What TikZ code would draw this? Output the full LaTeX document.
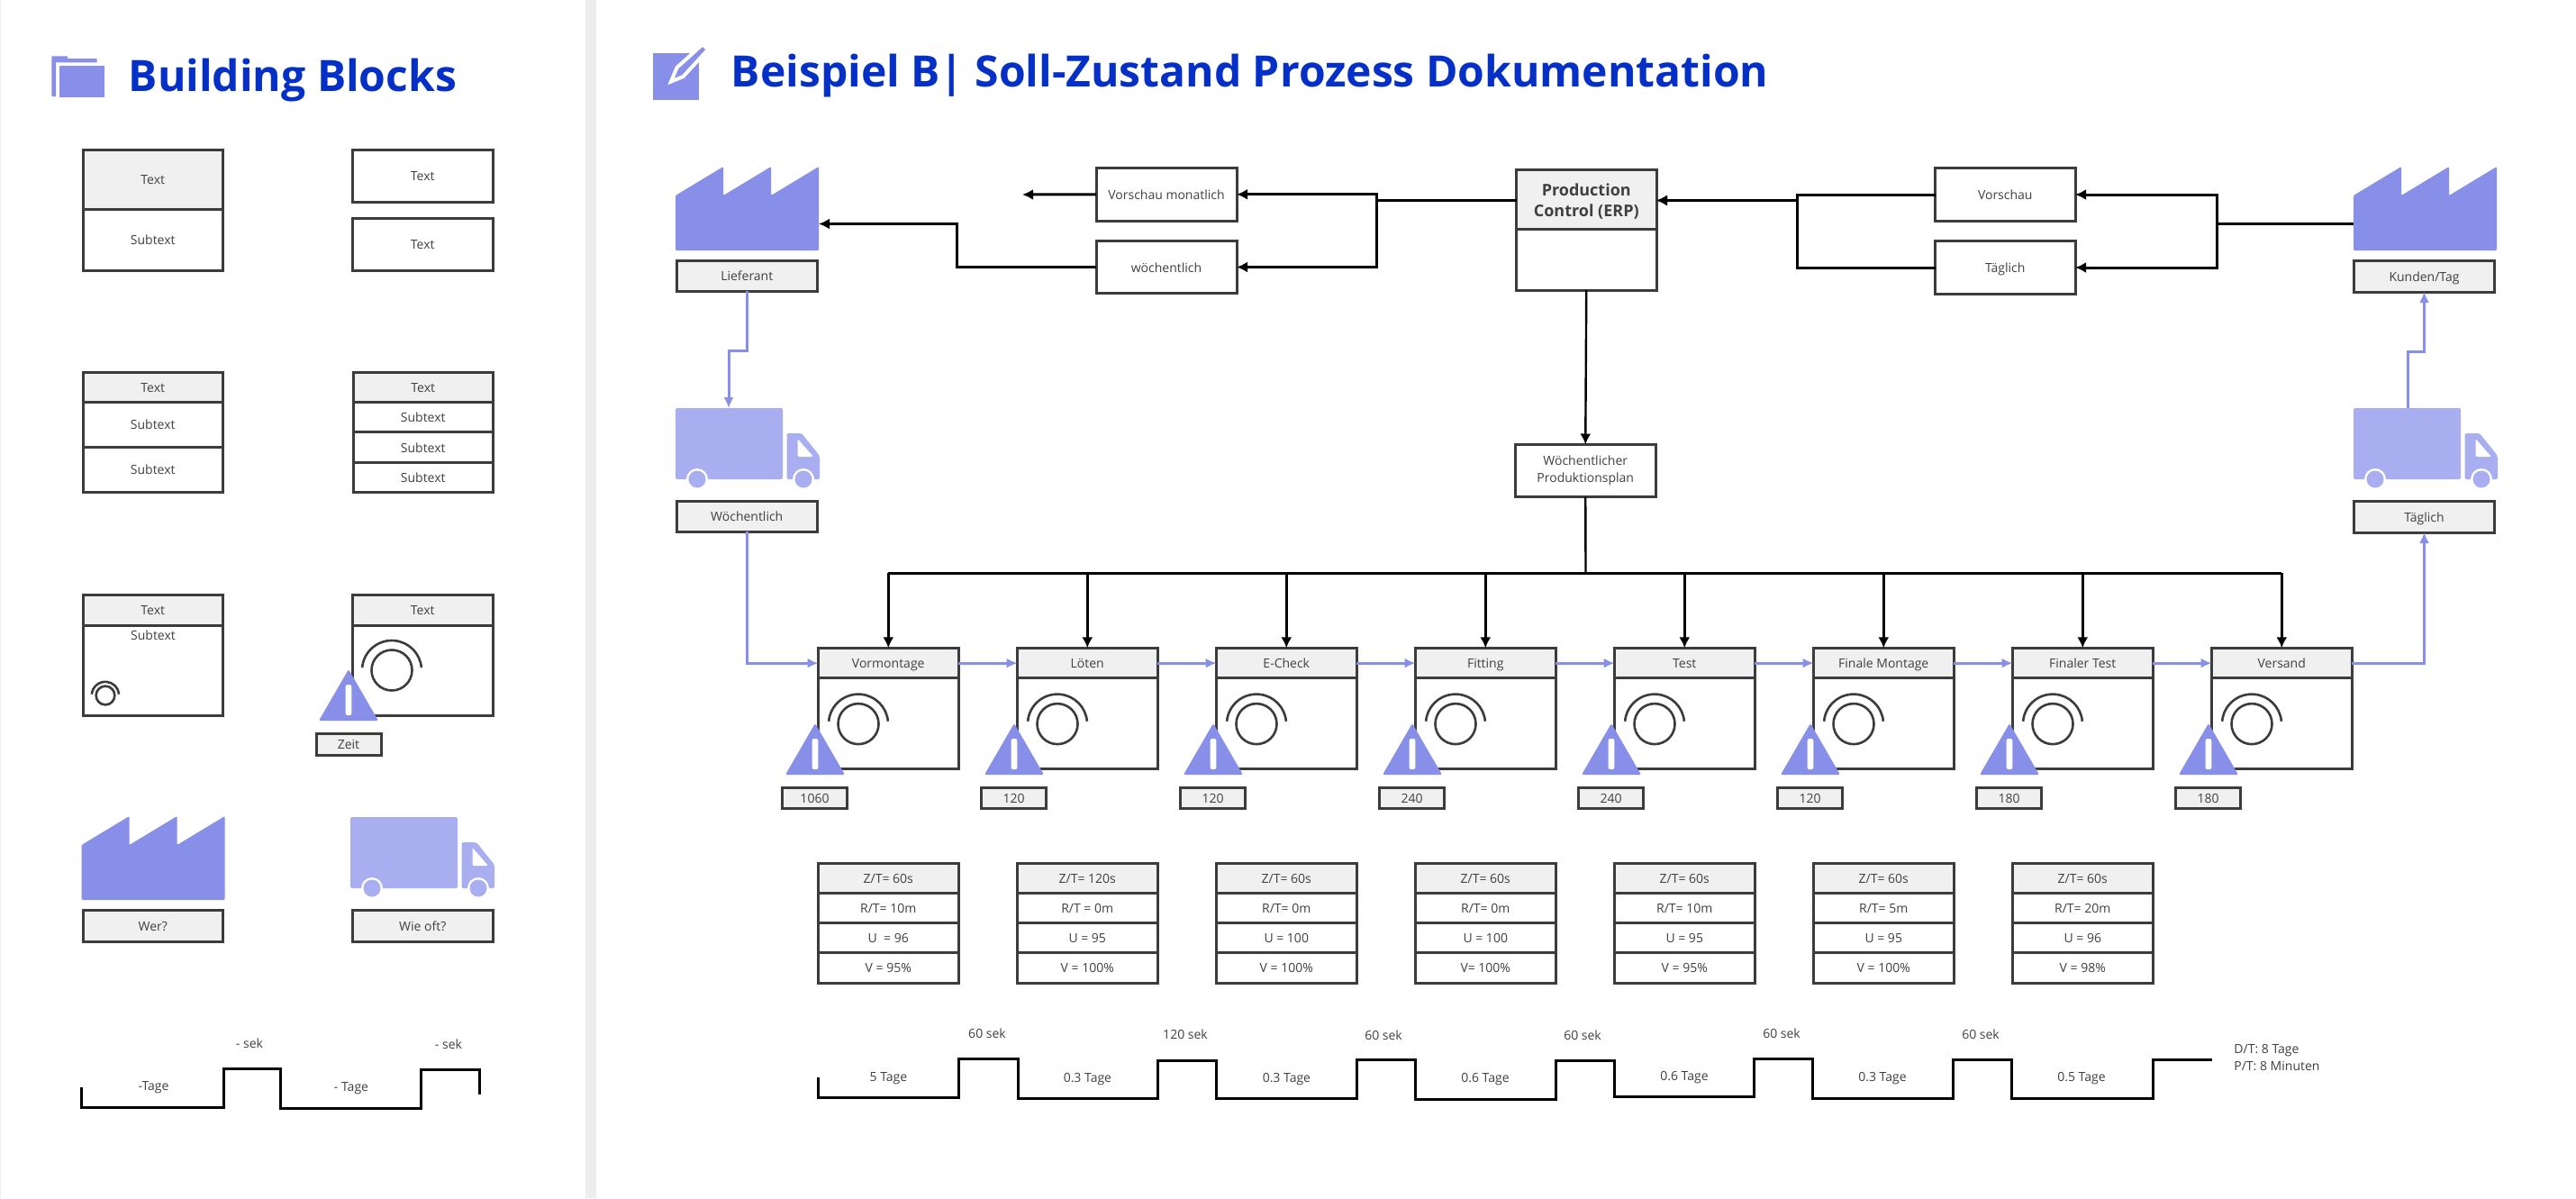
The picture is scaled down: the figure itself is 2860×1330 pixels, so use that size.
\documentclass[tikz,border=0pt]{standalone}
\usepackage{fontspec}
\usetikzlibrary{arrows.meta}
\setmainfont{Open Sans}
\definecolor{titleblue}{HTML}{0530C8}
\definecolor{iconblue}{HTML}{888FE8}
\definecolor{truckblue}{HTML}{A9AEF0}
\definecolor{linedark}{HTML}{3C3C3C}
\definecolor{textdark}{HTML}{404040}
\definecolor{headgray}{HTML}{F0F0F0}
\definecolor{stripegray}{HTML}{EEEEEE}
\tikzset{
  span/.style args={#1 by #2}{minimum width=#1*0.5pt, minimum height=#2*0.5pt},
  cellbase/.style={draw=linedark, line width=1.5pt, fill=white, text=textdark, inner sep=0pt, outer sep=0pt,
    anchor=north west, align=center, font=\fontsize{7}{9.2}\selectfont},
  cell/.style={cellbase, text height=.75em, text depth=.2em},
  headcell/.style={cell, fill=headgray},
  hidden/.style={inner sep=0pt, outer sep=0pt, anchor=north west},
  txt/.style={text=textdark, inner sep=0pt, font=\fontsize{7}{9.2}\selectfont},
  maintitle/.style={text=titleblue, inner sep=0pt, anchor=base west, font=\fontsize{24}{28}\selectfont\bfseries},
  flow/.style={-{Latex[length=6pt,width=6pt]}, black, line width=1.5pt},
  supply/.style={-{Latex[length=6pt,width=5.5pt]}, iconblue, line width=1.5pt},
  stepline/.style={black, line width=1.5pt, line join=miter},
  factory/.pic={
    \fill[iconblue, rounded corners=0.6pt] (0,32) -- (53,0) -- (53,32) -- (106,0) -- (106,32) -- (159,0) -- (159,93) -- (0,93) -- cycle;
  },
  truck/.pic={
    \fill[truckblue, rounded corners=1pt] (0,0) -- (119,0) -- (119,79) -- (0,79) -- cycle;
    \fill[truckblue, rounded corners=1pt] (123.5,28) -- (140,28) -- (160,53) -- (160,79) -- (123.5,79) -- cycle;
    \fill[white, rounded corners=1pt] (135.5,34) -- (153,54) -- (135.5,54) -- cycle;
    \fill[white] (24,79) circle (12) (142,79) circle (12);
    \fill[truckblue] (24,79) circle (9.5) (142,79) circle (9.5);
  },
  warnsign/.pic={
    \fill[iconblue, rounded corners=1pt] (0,0) -- (33,57) -- (-33,57) -- cycle;
    \fill[white, rounded corners=1pt] (-3.3,17) rectangle (3.3,51);
  },
  dial/.pic={
    \draw[linedark, line width=1.3pt] (0,0) circle (22.5);
    \draw[linedark, line width=1.3pt] (185:33) arc (185:355:33);
  },
}
\begin{document}
\begin{tikzpicture}[x=0.5pt,y=-0.5pt]
\useasboundingbox (0,0) rectangle (2860,1330);
\fill[white] (0,0) rectangle (2860,1330);
\fill[stripegray] (650,0) rectangle (661.5,1330);
\fill[stripegray] (0,0) rectangle (1,1330);

% building blocks
\fill[iconblue] (57.3,62.3) -- (75,62.3) -- (75,65) -- (107.7,65) -- (107.7,69.3) -- (62,69.3) -- (62,107) -- (57.3,107) -- cycle;
\fill[iconblue] (65.5,73.3) rectangle (115.7,108.3);
\node[maintitle] (titleblocks) at (142.5,101) {Building Blocks};

\node[headcell, span=155.5 by 66] (bbhead) at (92,166) {Text};
\node[cell, span=155.5 by 68] (bbsub) at (bbhead.south west) {Subtext};
\node[cell, span=155.5 by 58] (bbtexta) at (391.5,166) {Text};
\node[cell, span=155.5 by 58] (bbtextb) at (391.5,242) {Text};

\node[headcell, span=155.5 by 33.5] (bbtwohead) at (92,413) {Text};
\node[cell, span=155.5 by 49.5] (bbtwoa) at (bbtwohead.south west) {Subtext};
\node[cell, span=155.5 by 50.5] (bbtwob) at (bbtwoa.south west) {Subtext};

\node[headcell, span=155.5 by 33.5] (bbthreehead) at (392,413) {Text};
\node[cell, span=155.5 by 33] (bbthreea) at (bbthreehead.south west) {Subtext};
\node[cell, span=155.5 by 34] (bbthreeb) at (bbthreea.south west) {Subtext};
\node[cell, span=155.5 by 33] (bbthreec) at (bbthreeb.south west) {Subtext};

\node[headcell, span=155.5 by 34] (bbprochead) at (92,660) {Text};
\node[cellbase, span=155.5 by 100] (bbprocbody) at (bbprochead.south west) {};
\node[txt] (bbprocsub) at (170,705) {Subtext};
\pic[scale=.46] at (117,772) {dial};

\node[headcell, span=155.5 by 34] (bbdialhead) at (391.5,660) {Text};
\node[cellbase, span=155.5 by 100] (bbdialbody) at (bbdialhead.south west) {};
\pic at (435,744) {dial};
\pic at (387,743) {warnsign};
\node[headcell, span=72 by 24] (bbzeit) at (351,814) {Zeit};

\pic at (90.6,906) {factory};
\node[headcell, span=155.5 by 35] (bbwer) at (92,1010) {Wer?};
\pic at (389,907) {truck};
\node[headcell, span=155.5 by 35] (bbwieoft) at (391.5,1010) {Wie oft?};

\draw[stepline] (90.6,1207) -- (90.6,1229) -- (248,1229) -- (248,1186) -- (311,1186) -- (311,1230) -- (467.5,1230) -- (467.5,1187) -- (532.5,1187) -- (532.5,1215);
\node[txt] (bbseka) at (277,1158) {- sek};
\node[txt] (bbsekb) at (498,1159) {- sek};
\node[txt] (bbtagea) at (170.5,1207) {-Tage};
\node[txt] (bbtageb) at (390,1208) {- Tage};

% title
\fill[iconblue] (724.7,59) rectangle (776,111);
\draw[white, line width=2pt, fill=iconblue, line join=miter] (745,90.5) -- (751.5,75) -- (780,49.3) -- (786,55) -- (758.5,85) -- cycle;
\node[maintitle] (titlemain) at (811.5,96) {Beispiel B| Soll-Zustand Prozess Dokumentation};

% top row
\node[hidden, span=159 by 93] (lieferant) at (750,185) {};
\pic at (lieferant.north west) {factory};
\node[headcell, span=155.5 by 34] (lieferantbox) at (751.5,289) {Lieferant};
\node[hidden, span=160 by 89] (truckin) at (750,453) {};
\pic at (truckin.north west) {truck};
\node[headcell, span=155.5 by 34] (woechentlichbox) at (751.5,556) {Wöchentlich};

\node[cell, span=156 by 58.5] (vorschaumonat) at (1217,186.5) {Vorschau monatlich};
\node[cell, span=156 by 58] (woechentlichinfo) at (1217,267.5) {wöchentlich};
\node[cellbase, fill=headgray, span=155.5 by 66, font=\fontsize{9}{11.5}\selectfont\bfseries] (production) at (1683.5,188) {\rule{0pt}{9pt}Production\\Control (ERP)};
\node[cellbase, span=155.5 by 68] (productionbody) at (production.south west) {};
\node[cell, span=155.5 by 59] (vorschau) at (2148.5,186.5) {Vorschau};
\node[cell, span=155.5 by 59] (taeglichinfo) at (2148.5,267.5) {Täglich};
\node[hidden, span=159 by 93] (kunden) at (2613,185) {};
\pic at (kunden.north west) {factory};
\node[headcell, span=156 by 35] (kundenbox) at (2613.5,289) {Kunden/Tag};
\node[hidden, span=160 by 89] (truckout) at (2613,453) {};
\pic at (truckout.north west) {truck};
\node[headcell, span=156 by 35] (taeglichbox) at (2613.5,556) {Täglich};
\node[cellbase, span=155.5 by 58] (plan) at (1682.5,493.5) {Wöchentlicher\\Produktionsplan};

\coordinate (lieferantin) at (909,248.5);
\coordinate (offend) at (1135,216);
\coordinate (prodin) at (1839,222.5);
\coordinate (prodout) at (1683.5,222.5);
\coordinate (kundenout) at (2613,248);
\coordinate (truckinroof) at (809,453);
\coordinate (truckoutroof) at (2673,453);
\coordinate (bus) at (1760.5,636);

\draw[flow] (prodout) -- ++(-155,0) |- (vorschaumonat.east);
\draw[flow] (prodout) -- ++(-155,0) |- (woechentlichinfo.east);
\draw[flow] (vorschaumonat.west) -- (offend);
\draw[flow] (woechentlichinfo.west) -- ++(-154.5,0) |- (lieferantin);
\draw[flow] (vorschau.west) -- ++(-153.5,0) |- (prodin);
\draw[flow] (taeglichinfo.west) -- ++(-153.5,0) |- (prodin);
\draw[flow] (kundenout) -- ++(-151.5,0) |- (vorschau.east);
\draw[flow] (kundenout) -- ++(-151.5,0) |- (taeglichinfo.east);
\draw[flow, line width=1.2pt] (productionbody.south) -- (plan.north);

\draw[supply] (lieferantbox.south) -- ++(0,66) -| (truckinroof);
\draw[supply] (truckoutroof) -- ++(0,-63) -| (kundenbox.south);

% process steps
\foreach \title/\stock [count=\i] in {Vormontage/1060, Löten/120, E-Check/120, Fitting/240, Test/240, Finale Montage/120, Finaler Test/180, Versand/180} {
  \pgfmathsetmacro{\xpos}{908.5+221*(\i-1)}
  \node[headcell, span=155.5 by 33.5] (proc\i) at (\xpos,719.4) {\title};
  \node[cellbase, span=155.5 by 100.5] (body\i) at (proc\i.south west) {};
  \pic at (\xpos+44.5,803.6) {dial};
  \pic at (\xpos-3.5,803) {warnsign};
  \node[headcell, span=72 by 23] (stock\i) at (\xpos-40,874.5) {\stock};
}
\draw[line width=1.5pt] (bus -| proc1.north) -- (bus -| proc8.north);
\draw[line width=1.2pt] (plan.south) -- (bus);
\foreach \i in {1,...,8} {
  \draw[flow] (bus -| proc\i.north) -- (proc\i.north);
}
\foreach \i [evaluate=\i as \j using int(\i+1)] in {1,...,7} {
  \draw[supply] (proc\i.east) -- (proc\j.west);
}
\draw[supply] (woechentlichbox.south) |- (proc1.west);
\draw[supply] (proc8.east) -| (taeglichbox.south);

% data boxes
\foreach \zt/\rt/\uu/\vv [count=\i] in {{Z/T= 60s}/{R/T= 10m}/{U\ \ = 96}/{V = 95\%},
    {Z/T= 120s}/{R/T = 0m}/{U = 95}/{V = 100\%},
    {Z/T= 60s}/{R/T= 0m}/{U = 100}/{V = 100\%},
    {Z/T= 60s}/{R/T= 0m}/{U = 100}/{V= 100\%},
    {Z/T= 60s}/{R/T= 10m}/{U = 95}/{V = 95\%},
    {Z/T= 60s}/{R/T= 5m}/{U = 95}/{V = 100\%},
    {Z/T= 60s}/{R/T= 20m}/{U = 96}/{V = 98\%}} {
  \pgfmathsetmacro{\xpos}{908.5+221*(\i-1)}
  \node[headcell, span=155.5 by 33] (zt\i) at (\xpos,958) {\zt};
  \node[cell, span=155.5 by 33.4] (rt\i) at (zt\i.south west) {\rt};
  \node[cell, span=155.5 by 33.3] (uu\i) at (rt\i.south west) {\uu};
  \node[cell, span=155.5 by 33.5] (vv\i) at (uu\i.south west) {\vv};
}

% time line
\draw[stepline] (908,1196) -- (908,1218.5) -- (1064.5,1218.5) -- (1064.5,1175.6) -- (1130,1175.6) -- (1130,1219) -- (1285.5,1219) -- (1285.5,1177) -- (1350,1177) -- (1350,1219) -- (1506.5,1219) -- (1506.5,1176) -- (1571,1176) -- (1571,1220) -- (1727.4,1220) -- (1727.4,1177) -- (1792,1177) -- (1792,1217.7) -- (1947.7,1217.7) -- (1947.7,1175) -- (2012,1175) -- (2012,1219.3) -- (2168.8,1219.3) -- (2168.8,1176) -- (2233,1176) -- (2233,1219.3) -- (2390,1219.3) -- (2390,1176) -- (2456,1176);
\foreach \xpos/\ypos/\lab [count=\i] in {1096/1147/60 sek, 1316/1148.5/120 sek, 1536/1149/60 sek, 1757/1149/60 sek, 1978/1147/60 sek, 2199/1148/60 sek} {
  \node[txt] (sek\i) at (\xpos,\ypos) {\lab};
}
\foreach \xpos/\ypos/\lab [count=\i] in {986.4/1197/5 Tage, 1207.4/1198/0.3 Tage, 1428.4/1198/0.3 Tage, 1649/1198.5/0.6 Tage, 1870/1196.5/0.6 Tage, 2090/1197.5/0.3 Tage, 2311/1197.5/0.5 Tage} {
  \node[txt] (tage\i) at (\xpos,\ypos) {\lab};
}
\node[txt, anchor=west] (durchlauf) at (2480,1165.7) {D/T: 8 Tage};
\node[txt, anchor=west] (prozess) at (2480,1183.3) {P/T: 8 Minuten};
\end{tikzpicture}
\end{document}
